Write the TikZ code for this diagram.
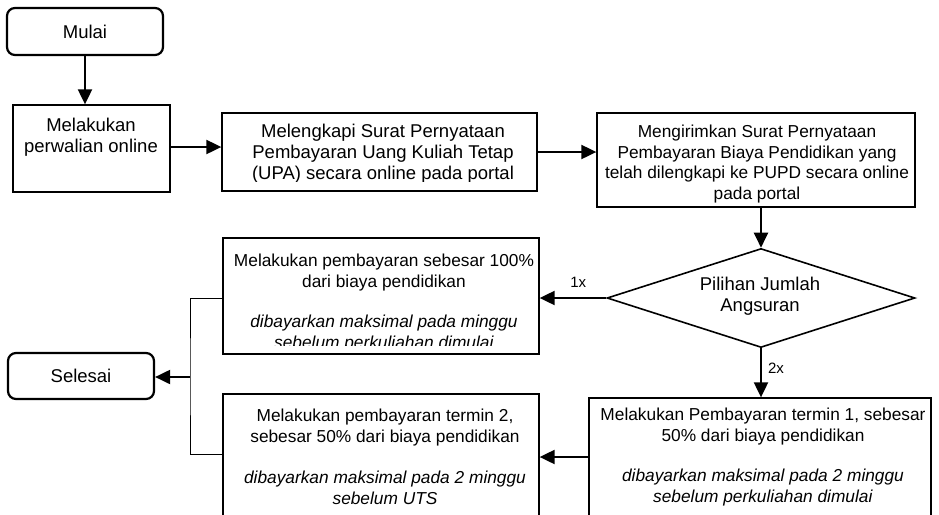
\documentclass[tikz,border=0pt]{standalone}
\usepackage{fontspec}
\setmainfont{Liberation Sans}
\usetikzlibrary{shapes.geometric,fit,arrows.meta}
\begin{document}
\begin{tikzpicture}[x=0.5pt,y=-0.5pt,
  box/.style={draw, line width=0.65pt, inner sep=0pt},
  term/.style={draw, line width=1.1pt, rounded corners=4pt, inner sep=0pt},
  txt/.style={align=center, inner sep=0pt, font=\fontsize{9.25}{10.6}\selectfont},
  stxt/.style={align=center, inner sep=0pt, font=\fontsize{8.65}{10.4}\selectfont},
  lbl/.style={inner sep=0pt, font=\fontsize{7.5}{9}\selectfont},
  arr/.style={line width=1pt, -{Triangle[length=7.5pt,width=7pt]}},
  thinline/.style={line width=0.5pt}]
\useasboundingbox (0,0) rectangle (939,515);
\clip (0,0) rectangle (939,515);

% terminals
\node[term, fit={(7,8) (163,55)}] (mulai) {};
\node[txt] (tmulai) at (85,32) {Mulai};
\node[term, fit={(8,353) (154,399)}] (selesai) {};
\node[txt] (tselesai) at (81,376) {Selesai};

% process boxes
\node[box, fit={(13,105) (170,192)}] (b1) {};
\node[txt] (tb1) at (91,137) {Melakukan\\perwalian online};

\node[box, fit={(222,113) (537,191)}] (b2) {};
\begin{scope}
\clip (222,113) rectangle (537,181);
\node[txt] (tb2) at (383,154) {Melengkapi Surat Pernyataan\\Pembayaran Uang Kuliah Tetap\\(UPA) secara online pada portal};
\end{scope}

\node[box, fit={(597,113) (915,207)}] (b3) {};
\node[stxt] (tb3) at (757,164) {Mengirimkan Surat Pernyataan\\Pembayaran Biaya Pendidikan yang\\telah dilengkapi ke PUPD secara online\\pada portal};

\node[draw, line width=0.8pt, shape=diamond, minimum width=154pt, minimum height=49.5pt, inner sep=0pt] (dia) at (761,298) {};
\node[txt] (tdia) at (760,296) {Pilihan Jumlah\\Angsuran};

\node[box, fit={(223,238) (539,354)}] (b100) {};
\begin{scope}
\clip (223,238) rectangle (539,345);
\node[stxt] (tb100) at (384,303) {Melakukan pembayaran sebesar 100\%\\dari biaya pendidikan\\[10pt]\textit{dibayarkan maksimal pada minggu}\\\textit{sebelum perkuliahan dimulai}};
\end{scope}

\node[box, fit={(589,398) (931,525)}] (t1) {};
\node[stxt] (tt1) at (763,457) {Melakukan Pembayaran termin 1, sebesar\\50\% dari biaya pendidikan\\[10pt]\textit{dibayarkan maksimal pada 2 minggu}\\\textit{sebelum perkuliahan dimulai}};

\node[box, fit={(223,394) (539,525)}] (t2) {};
\node[stxt] (tt2) at (385,457) {Melakukan pembayaran termin 2,\\sebesar 50\% dari biaya pendidikan\\[10pt]\textit{dibayarkan maksimal pada 2 minggu}\\\textit{sebelum UTS}};

% connectors
\draw[arr] (mulai.south) -- (mulai.south |- b1.north);
\draw[arr] (b1.east |- 0,147) -- (b2.west |- 0,147);
\draw[arr] (b2.east |- 0,152) -- (b3.west |- 0,152);
\draw[arr] (dia.north |- b3.south) -- (dia.north);
\draw[arr] (dia.west) -- (dia.west -| b100.east) node[lbl, pos=0.42, above=5pt] (l1) {1x};
\draw[arr] (dia.south) -- (dia.south |- t1.north) node[lbl, pos=0.4, right=3pt] (l2) {2x};
\draw[arr] (t1.west |- 0,457) -- (t2.east |- 0,457);

\coordinate (jn) at (190,377);
\draw[thinline] (b100.west |- 0,298) -| (jn) |- (t2.west |- 0,454);
\draw[arr] (jn) -- (selesai.east |- jn);
\end{tikzpicture}
\end{document}
